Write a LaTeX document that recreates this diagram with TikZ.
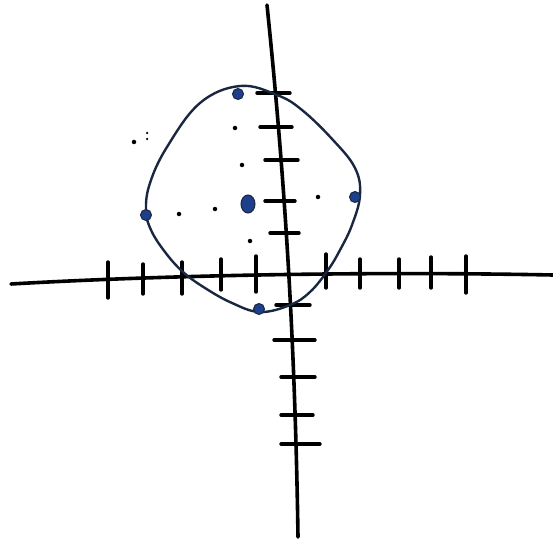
\documentclass[tikz,border=0pt]{standalone}
\usetikzlibrary{shapes.geometric}
\definecolor{penblue}{HTML}{1E3F8C}
\definecolor{inkline}{HTML}{1A2740}
\begin{document}
\begin{tikzpicture}[x=1pt, y=-1pt,
    axisline/.style={line width=3.6pt, line cap=round, black},
    tickmark/.style={line width=3.4pt, line cap=round, black},
    curveline/.style={line width=2.4pt, inkline},
    bigdot/.style={circle, fill=penblue, draw=inkline, line width=1pt, inner sep=0pt, minimum size=11pt},
    smalldot/.style={circle, fill=black, inner sep=0pt, minimum size=4.5pt}]
    \useasboundingbox (0,0) rectangle (553,545);

    % Axis ends
    \coordinate (xl) at (11,284);
    \coordinate (xr) at (553,275);
    \coordinate (yt) at (267,5);
    \coordinate (yb) at (298,537);

    % Axes
    \draw[axisline] (xl) .. controls (150,276) and (350,271) .. (xr);
    \draw[axisline] (yt) .. controls (285,180) and (295,340) .. (yb);

    % Ticks on the horizontal axis
    \foreach \tx/\ta/\tb in {108/262/298, 143/264/294, 182/262/294, 221/259/290, 256/256/292,
                             326/254/288, 360/259/288, 399/259/288, 431/257/288, 466/256/293}
        \draw[tickmark] (\tx,\ta) -- (\tx,\tb);

    % Ticks on the vertical axis
    \foreach \ty/\xa/\xb in {93/257/290, 127/260/292, 160/265/298, 201/265/295, 233/270/299,
                             305/276/310, 340/274/315, 377/281/315, 415/281/313, 444/281/320}
        \draw[tickmark] (\xa,\ty) -- (\xb,\ty);

    % Closed curve
    \draw[curveline] plot[smooth cycle, tension=0.65] coordinates {
        (240,86) (277,95) (302,110) (333,140) (355,168) (360,195) (352,225)
        (340,250) (328,270) (310,292) (290,305) (260,312) (232,303) (205,288)
        (183,272) (165,252) (151,230) (146,210) (150,183) (167,147) (200,103)};

    % Points on the curve
    \node[bigdot] (ptop) at (238,94) {};
    \node[bigdot] (pleft) at (146,215) {};
    \node[bigdot] (pright) at (355,197) {};
    \node[bigdot] (pbottom) at (259,309) {};
    \node[bigdot, ellipse, minimum width=14pt, minimum height=18pt] (pcenter) at (248,204) {};

    % Small dots
    \node[smalldot] (s1) at (134,142) {};
    \node[smalldot, minimum size=2.5pt] (s2) at (147,133) {};
    \node[smalldot, minimum size=2.5pt] (s3) at (147,139) {};
    \node[smalldot] (s4) at (235,128) {};
    \node[smalldot] (s5) at (242,165) {};
    \node[smalldot] (s6) at (179,214) {};
    \node[smalldot] (s7) at (215,209) {};
    \node[smalldot] (s8) at (318,197) {};
    \node[smalldot] (s9) at (250,241) {};
\end{tikzpicture}
\end{document}
